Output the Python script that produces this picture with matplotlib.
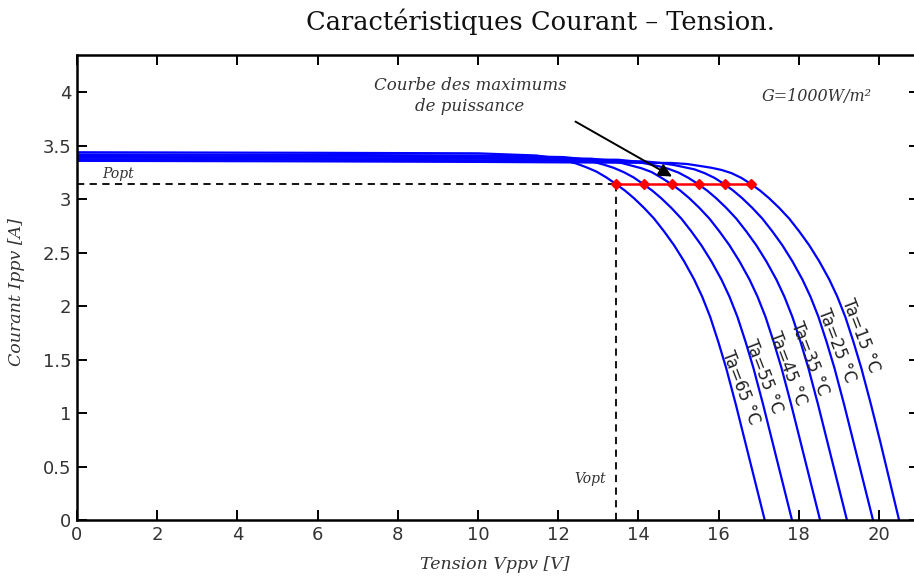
import matplotlib.pyplot as plt

# Ambient temperatures (degC) and I-V points
temps = [65, 55, 45, 35, 25, 15]

v_65 = [0, 6, 10, 11.45, 11.85, 12.2, 12.45, 12.7, 12.95, 13.2, 13.45, 13.67, 13.89, 14.14, 14.39,
        14.64, 14.89, 15.14, 15.39, 15.59, 15.79, 15.99, 16.19, 16.43, 16.67, 16.91, 17.15]
i_65 = [3.44, 3.435, 3.43, 3.41, 3.39, 3.36, 3.335, 3.30, 3.26, 3.205, 3.14, 3.08, 3.01, 2.92, 2.82,
        2.70, 2.57, 2.42, 2.25, 2.09, 1.90, 1.67, 1.42, 1.08, 0.72, 0.36, 0]

v_55 = [0, 6, 10, 12.13, 12.53, 12.88, 13.13, 13.38, 13.63, 13.88, 14.13, 14.35, 14.57, 14.82, 15.07,
        15.32, 15.57, 15.82, 16.07, 16.27, 16.47, 16.67, 16.87, 17.11, 17.35, 17.59, 17.83]
i_55 = [3.42, 3.415, 3.41, 3.395, 3.38, 3.35, 3.325, 3.295, 3.255, 3.205, 3.14, 3.08, 3.01, 2.92, 2.82,
        2.70, 2.57, 2.42, 2.25, 2.09, 1.90, 1.67, 1.42, 1.08, 0.72, 0.36, 0]

v_45 = [0, 6, 10, 12.83, 13.23, 13.58, 13.83, 14.08, 14.33, 14.58, 14.83, 15.05, 15.27, 15.52, 15.77,
        16.02, 16.27, 16.52, 16.77, 16.97, 17.17, 17.37, 17.57, 17.81, 18.05, 18.29, 18.53]
i_45 = [3.405, 3.40, 3.395, 3.38, 3.365, 3.34, 3.315, 3.29, 3.255, 3.20, 3.14, 3.08, 3.01, 2.92, 2.82,
        2.70, 2.57, 2.42, 2.25, 2.09, 1.90, 1.67, 1.42, 1.08, 0.72, 0.36, 0]

v_35 = [0, 6, 10, 13.5, 13.9, 14.25, 14.5, 14.75, 15.0, 15.25, 15.5, 15.72, 15.94, 16.19, 16.44,
        16.69, 16.94, 17.19, 17.44, 17.64, 17.84, 18.04, 18.24, 18.48, 18.72, 18.96, 19.2]
i_35 = [3.39, 3.385, 3.38, 3.37, 3.355, 3.33, 3.31, 3.285, 3.25, 3.20, 3.14, 3.08, 3.01, 2.92, 2.82,
        2.70, 2.57, 2.42, 2.25, 2.09, 1.90, 1.67, 1.42, 1.08, 0.72, 0.36, 0]

v_25 = [0, 6, 10, 14.15, 14.55, 14.9, 15.15, 15.4, 15.65, 15.9, 16.15, 16.37, 16.59, 16.84, 17.09,
        17.34, 17.59, 17.84, 18.09, 18.29, 18.49, 18.69, 18.89, 19.13, 19.37, 19.61, 19.85]
i_25 = [3.375, 3.37, 3.365, 3.355, 3.34, 3.32, 3.30, 3.28, 3.245, 3.20, 3.14, 3.08, 3.01, 2.92, 2.82,
        2.70, 2.57, 2.42, 2.25, 2.09, 1.90, 1.67, 1.42, 1.08, 0.72, 0.36, 0]

v_15 = [0, 6, 10, 14.82, 15.22, 15.57, 15.82, 16.07, 16.32, 16.57, 16.82, 17.04, 17.26, 17.51, 17.76,
        18.01, 18.26, 18.51, 18.76, 18.96, 19.16, 19.36, 19.56, 19.8, 20.04, 20.27, 20.5]
i_15 = [3.36, 3.355, 3.35, 3.34, 3.33, 3.31, 3.295, 3.275, 3.245, 3.20, 3.14, 3.08, 3.01, 2.92, 2.82,
        2.70, 2.57, 2.42, 2.25, 2.09, 1.90, 1.67, 1.42, 1.08, 0.72, 0.36, 0]

curves_v = [v_65, v_55, v_45, v_35, v_25, v_15]
curves_i = [i_65, i_55, i_45, i_35, i_25, i_15]

# maximum power points
v_mpp = [13.45, 14.13, 14.83, 15.5, 16.15, 16.82]
i_mpp = [3.14, 3.14, 3.14, 3.14, 3.14, 3.14]

# label anchor points along the curves
label_v = [16.56, 17.11, 17.71, 18.28, 18.95, 19.55]
label_i = [1.24, 1.34, 1.42, 1.51, 1.63, 1.73]

x_ticks = [0, 2, 4, 6, 8, 10, 12, 14, 16, 18, 20]
y_ticks = [0, 0.5, 1, 1.5, 2, 2.5, 3, 3.5, 4]
y_tick_labels = ["0", "0.5", "1", "1.5", "2", "2.5", "3", "3.5", "4"]

serif = "DejaVu Serif"
sans = "DejaVu Sans"
txt_col = "#333333"

fig = plt.figure(figsize=(9.14, 5.81), dpi=100)
ax = fig.add_axes([77 / 914, 61 / 581, 21 * 40.1 / 914, 465 / 581])

for v, i in zip(curves_v, curves_i):
    ax.plot(v, i, color="#0000ff", lw=1.6)

# Popt / Vopt dashed guides (from the 65 degC optimum)
ax.plot([0, v_mpp[0]], [i_mpp[0], i_mpp[0]], ls=(0, (4, 3)), color="black", lw=1.3)
ax.plot([v_mpp[0], v_mpp[0]], [0, i_mpp[0]], ls=(0, (4, 3)), color="black", lw=1.3)

ax.plot(v_mpp, i_mpp, color="#ff0000", lw=1.8, marker="D", ms=5,
        markerfacecolor="#ff0000", markeredgecolor="#ff0000")

for t, lv, li in zip(temps, label_v, label_i):
    ax.text(lv, li, f"Ta={t} °C", rotation=-69, ha="center", va="center",
            fontsize=12, family=sans, color="#222222")

ax.text(0.62, 3.2, "Popt", fontsize=10, family=serif, style="italic", color=txt_col)
ax.text(13.2, 0.35, "Vopt", fontsize=10, family=serif, style="italic", color=txt_col, ha="right")
ax.text(18.45, 3.96, "G=1000W/m²", fontsize=11.5, family=serif, style="italic",
        color=txt_col, ha="center", va="center")
ax.text(9.8, 3.97, "Courbe des maximums\nde puissance", fontsize=12, family=serif,
        style="italic", color=txt_col, ha="center", va="center", linespacing=1.3)
ax.annotate("", xy=(14.9, 3.2), xytext=(12.37, 3.74),
            arrowprops=dict(arrowstyle="-|>", color="black", lw=1.4, mutation_scale=20))

ax.set_xlim(0, 21)
ax.set_ylim(0, 4.35)
ax.set_xticks(x_ticks)
ax.set_yticks(y_ticks)
ax.set_yticklabels(y_tick_labels)
ax.tick_params(direction="in", length=7, width=1.4, top=True, right=True,
               labelsize=13, labelcolor=txt_col)
ax.tick_params(axis="x", pad=4)
ax.tick_params(axis="y", pad=4)
for lab in ax.get_xticklabels() + ax.get_yticklabels():
    lab.set_family(sans)
for sp in ax.spines.values():
    sp.set_linewidth(1.8)

ax.set_xlabel("Tension Vppv [V]", fontsize=12.5, family=serif, style="italic", color=txt_col)
ax.set_ylabel("Courant Ippv [A]", fontsize=12.5, family=serif, style="italic", color=txt_col)
ax.xaxis.set_label_coords(0.496, -0.078)
ax.yaxis.set_label_coords(-0.062, 0.49)

fig.text(540 / 914, 1 - 22 / 581, "Caractéristiques Courant – Tension.", ha="center",
         va="center", fontsize=18.5, family=serif, color="#111111")

fig.savefig("out.png", dpi=100)
